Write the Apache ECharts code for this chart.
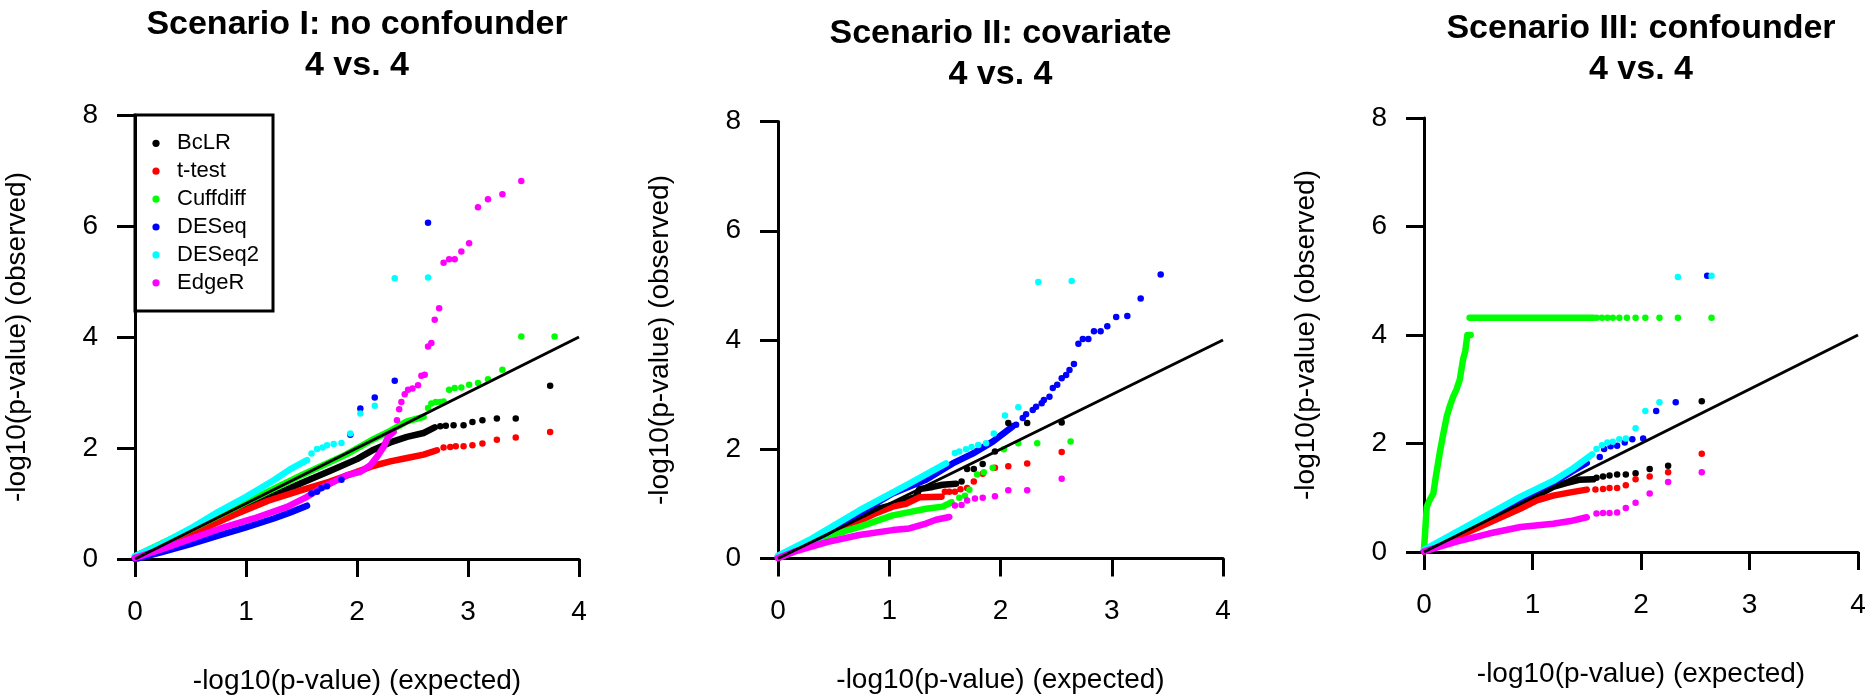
<!DOCTYPE html>
<html>
<head>
<meta charset="utf-8">
<script src="https://cdn.jsdelivr.net/npm/echarts@6/dist/echarts.min.js"></script>
<style>
html,body{margin:0;padding:0;background:#fff;}
#chart{width:1876px;height:700px;}
</style>
</head>
<body>
<div id="chart"></div>
<script>
// ---------- categories / labels ----------
const methods = ['BcLR', 't-test', 'Cuffdiff', 'DESeq', 'DESeq2', 'EdgeR'];
const panelTitles = ['Scenario I: no confounder\n4 vs. 4', 'Scenario II: covariate\n4 vs. 4', 'Scenario III: confounder\n4 vs. 4'];
const xTickLabels = [0, 1, 2, 3, 4];
const yTickLabels = [0, 2, 4, 6, 8];
const xAxisTitle = '-log10(p-value) (expected)';
const yAxisTitle = '-log10(p-value) (observed)';
const refLine = [[0, 0], [4, 4]];

// ---------- Panel I: no confounder ----------
const p1BcLRBand = [[0,0.02],[0.3,0.27],[0.6,0.55],[0.9,0.83],[1.2,1.10],[1.5,1.37],[1.75,1.58],[2.0,1.80],[2.15,1.97],[2.3,2.10],[2.45,2.20],[2.6,2.27],[2.7,2.37]];
const p1BcLRPts = [[2.75,2.39],[2.80,2.40],[2.87,2.41],[2.96,2.41],[3.04,2.47],[3.13,2.50],[3.26,2.53],[3.43,2.53],[3.74,3.12]];
const p1TtestBand = [[0,0.02],[0.3,0.26],[0.6,0.53],[0.9,0.80],[1.2,1.05],[1.5,1.24],[1.75,1.39],[2.0,1.57],[2.15,1.68],[2.3,1.76],[2.45,1.82],[2.6,1.88],[2.72,1.96]];
const p1TtestPts = [[2.78,2.01],[2.84,2.02],[2.89,2.03],[2.96,2.03],[3.04,2.05],[3.13,2.08],[3.26,2.15],[3.43,2.19],[3.74,2.29]];
const p1CuffBand = [[0,0.05],[0.5,0.53],[1.0,1.02],[1.5,1.51],[1.9,1.88],[2.13,2.14],[2.3,2.31],[2.45,2.48],[2.6,2.56]];
const p1CuffPts = [[2.64,2.72],[2.67,2.80],[2.71,2.83],[2.75,2.83],[2.78,2.84],[2.83,3.05],[2.88,3.08],[2.94,3.09],[3.01,3.14],[3.09,3.17],[3.18,3.24],[3.31,3.41],[3.48,4.01],[3.78,4.01]];
const p1DESeqBand = [[0,0.0],[0.25,0.13],[0.5,0.27],[0.75,0.42],[1.0,0.57],[1.25,0.73],[1.4,0.84],[1.55,0.96]];
const p1DESeqPts = [[1.59,1.18],[1.64,1.21],[1.68,1.28],[1.73,1.31],[1.86,1.43],[1.94,2.24],[2.03,2.71],[2.16,2.91],[2.34,3.21],[2.64,6.06]];
const p1DESeq2Band = [[0,0.05],[0.25,0.28],[0.5,0.55],[0.75,0.85],[1.0,1.12],[1.25,1.42],[1.4,1.62],[1.55,1.78]];
const p1DESeq2Pts = [[1.59,1.90],[1.64,1.98],[1.69,2.01],[1.73,2.05],[1.79,2.07],[1.86,2.09],[1.94,2.26],[2.03,2.62],[2.16,2.76],[2.34,5.06],[2.64,5.07]];
const p1EdgeRBand = [[0,0.02],[0.25,0.18],[0.47,0.34],[0.77,0.55],[1.07,0.73],[1.37,0.94],[1.55,1.12],[1.67,1.27],[1.79,1.39],[1.91,1.51],[2.03,1.57],[2.12,1.69],[2.18,1.84],[2.24,2.02],[2.28,2.20],[2.33,2.29]];
const p1EdgeRPts = [[2.36,2.50],[2.38,2.70],[2.40,2.83],[2.43,2.97],[2.46,3.05],[2.50,3.07],[2.55,3.13],[2.58,3.30],[2.61,3.32],[2.64,3.83],[2.67,3.89],[2.70,4.31],[2.74,4.52],[2.78,5.34],[2.83,5.40],[2.88,5.40],[2.94,5.54],[3.01,5.69],[3.09,6.34],[3.18,6.48],[3.31,6.57],[3.48,6.81]];

// ---------- Panel II: covariate ----------
const p2BcLRBand = [[0,0.01],[0.3,0.28],[0.6,0.57],[0.88,0.90],[1.03,0.98],[1.15,1.07],[1.24,1.13],[1.27,1.27],[1.39,1.31],[1.48,1.35],[1.6,1.37]];
const p2BcLRPts = [[1.65,1.41],[1.70,1.64],[1.76,1.64],[1.84,1.73],[1.95,1.96],[2.07,2.48],[2.24,2.48],[2.55,2.49]];
const p2TtestBand = [[0,0.01],[0.3,0.27],[0.6,0.55],[0.88,0.83],[1.03,0.95],[1.15,1.00],[1.27,1.12],[1.47,1.13]];
const p2TtestPts = [[1.50,1.22],[1.54,1.22],[1.59,1.22],[1.64,1.27],[1.70,1.29],[1.76,1.41],[1.84,1.55],[1.95,1.66],[2.07,1.69],[2.24,1.74],[2.55,1.95]];
const p2CuffBand = [[0,0.01],[0.2,0.17],[0.44,0.40],[0.73,0.58],[1.03,0.79],[1.18,0.85],[1.33,0.91],[1.48,0.95],[1.56,1.03]];
const p2CuffPts = [[1.63,1.11],[1.68,1.15],[1.72,1.26],[1.79,1.54],[1.85,1.58],[1.93,1.66],[2.03,2.00],[2.16,2.11],[2.33,2.11],[2.63,2.14]];
const p2DESeqBand = [[0,0.03],[0.43,0.46],[0.73,0.83],[1.03,1.19],[1.33,1.44],[1.57,1.74],[1.75,1.92],[1.93,2.14],[2.11,2.42]];
const p2DESeqPts = [[2.14,2.45],[2.20,2.57],[2.23,2.64],[2.29,2.72],[2.32,2.78],[2.37,2.84],[2.39,2.90],[2.44,2.96],[2.47,3.12],[2.51,3.18],[2.55,3.30],[2.59,3.36],[2.62,3.45],[2.66,3.56],[2.70,3.93],[2.74,4.02],[2.79,4.02],[2.84,4.16],[2.90,4.16],[2.96,4.25],[3.04,4.42],[3.14,4.44],[3.26,4.76],[3.44,5.20]];
const p2DESeq2Band = [[0,0.05],[0.3,0.36],[0.73,0.88],[1.18,1.37],[1.51,1.74]];
const p2DESeq2Pts = [[1.59,1.93],[1.63,1.96],[1.69,2.00],[1.74,2.04],[1.80,2.08],[1.87,2.11],[1.94,2.29],[2.04,2.62],[2.16,2.77],[2.34,5.06],[2.64,5.08]];
const p2EdgeRBand = [[0,0.01],[0.14,0.12],[0.44,0.30],[0.73,0.43],[1.03,0.52],[1.18,0.55],[1.33,0.64],[1.42,0.71],[1.54,0.76]];
const p2EdgeRPts = [[1.59,0.97],[1.65,0.98],[1.70,1.06],[1.77,1.10],[1.84,1.11],[1.95,1.14],[2.07,1.25],[2.24,1.25],[2.55,1.46]];

// ---------- Panel III: confounder ----------
const p3BcLRBand = [[0,0.01],[0.5,0.48],[0.9,0.88],[1.19,1.20],[1.31,1.27],[1.43,1.33],[1.56,1.34]];
const p3BcLRPts = [[1.59,1.37],[1.65,1.39],[1.71,1.41],[1.78,1.43],[1.86,1.43],[1.95,1.45],[2.08,1.53],[2.25,1.59],[2.56,2.78]];
const p3TtestBand = [[0,0.01],[0.5,0.45],[0.89,0.80],[1.04,0.95],[1.19,1.04],[1.35,1.10],[1.5,1.15]];
const p3TtestPts = [[1.58,1.15],[1.65,1.16],[1.71,1.18],[1.78,1.18],[1.86,1.23],[1.95,1.34],[2.08,1.39],[2.25,1.47],[2.56,1.81]];
const p3CuffRise = [[0,0.05],[0.01,0.35],[0.025,0.83],[0.05,0.95],[0.086,1.08],[0.11,1.40],[0.147,1.85],[0.18,2.20],[0.21,2.50],[0.24,2.70],[0.27,2.87],[0.30,3.00],[0.33,3.18],[0.36,3.55],[0.38,3.70],[0.39,3.85],[0.40,4.00],[0.43,4.00]];
const p3CuffBand = [[0.42,4.32],[1.56,4.32]];
const p3CuffPts = [[1.59,4.32],[1.64,4.32],[1.69,4.32],[1.74,4.32],[1.80,4.32],[1.87,4.32],[1.95,4.32],[2.04,4.32],[2.17,4.32],[2.34,4.32],[2.65,4.32]];
const p3DESeqBand = [[0,0.02],[0.5,0.56],[0.9,0.99],[1.24,1.33],[1.36,1.48],[1.5,1.64]];
const p3DESeqPts = [[1.62,1.75],[1.66,1.90],[1.72,1.95],[1.78,1.96],[1.85,2.02],[1.92,2.08],[2.02,2.09],[2.14,2.60],[2.32,2.76],[2.61,5.09]];
const p3DESeq2Band = [[0,0.04],[0.42,0.50],[0.89,1.02],[1.19,1.31],[1.38,1.55],[1.55,1.80]];
const p3DESeq2Pts = [[1.59,1.90],[1.64,1.97],[1.69,2.02],[1.74,2.03],[1.80,2.08],[1.86,2.09],[1.95,2.28],[2.04,2.60],[2.17,2.76],[2.34,5.07],[2.65,5.09]];
const p3EdgeRBand = [[0,0.01],[0.3,0.19],[0.6,0.34],[0.89,0.46],[1.19,0.52],[1.35,0.57],[1.5,0.64]];
const p3EdgeRPts = [[1.59,0.71],[1.65,0.72],[1.71,0.72],[1.78,0.73],[1.86,0.81],[1.95,0.91],[2.08,1.08],[2.25,1.29],[2.56,1.47]];

// ---------- tables built from the arrays above ----------
const panelBands = [
  { 'BcLR': [p1BcLRBand], 't-test': [p1TtestBand], 'Cuffdiff': [p1CuffBand], 'DESeq': [p1DESeqBand], 'DESeq2': [p1DESeq2Band], 'EdgeR': [p1EdgeRBand] },
  { 'BcLR': [p2BcLRBand], 't-test': [p2TtestBand], 'Cuffdiff': [p2CuffBand], 'DESeq': [p2DESeqBand], 'DESeq2': [p2DESeq2Band], 'EdgeR': [p2EdgeRBand] },
  { 'BcLR': [p3BcLRBand], 't-test': [p3TtestBand], 'Cuffdiff': [p3CuffRise, p3CuffBand], 'DESeq': [p3DESeqBand], 'DESeq2': [p3DESeq2Band], 'EdgeR': [p3EdgeRBand] }
];
const panelPoints = [
  { 'BcLR': p1BcLRPts, 't-test': p1TtestPts, 'Cuffdiff': p1CuffPts, 'DESeq': p1DESeqPts, 'DESeq2': p1DESeq2Pts, 'EdgeR': p1EdgeRPts },
  { 'BcLR': p2BcLRPts, 't-test': p2TtestPts, 'Cuffdiff': p2CuffPts, 'DESeq': p2DESeqPts, 'DESeq2': p2DESeq2Pts, 'EdgeR': p2EdgeRPts },
  { 'BcLR': p3BcLRPts, 't-test': p3TtestPts, 'Cuffdiff': p3CuffPts, 'DESeq': p3DESeqPts, 'DESeq2': p3DESeq2Pts, 'EdgeR': p3EdgeRPts }
];

// ---------- styles / layout ----------
const methodColors = { 'BcLR': '#000000', 't-test': '#FF0000', 'Cuffdiff': '#00FF00', 'DESeq': '#0000FF', 'DESeq2': '#00FFFF', 'EdgeR': '#FF00FF' };
const FONT = 'Liberation Sans, Arial, Helvetica, sans-serif';
const grids = [
  { left: 135, top: 115, width: 444, height: 444 },
  { left: 778, top: 121.5, width: 445, height: 437 },
  { left: 1424, top: 118, width: 434, height: 434 }
];
const titleTops = [4, 13, 8.5];
// legend box layout (pixels, panel I, top-left corner of the plot)
const legendBox = { x: 135, y: 115, width: 138, height: 196, firstRow: 28.3, rowStep: 27.9, dotX: 21, textX: 42 };

const chart = echarts.init(document.getElementById('chart'), null, { renderer: 'canvas' });

const xAxes = [], yAxes = [], series = [], titles = [];
grids.forEach((g, i) => {
  titles.push({
    text: panelTitles[i], left: g.left + g.width / 2, top: titleTops[i], textAlign: 'center', padding: 0,
    textStyle: { fontFamily: FONT, fontSize: 34, fontWeight: 'bold', color: '#000', lineHeight: 41 }
  });
  xAxes.push({
    gridIndex: i, type: 'value',
    min: xTickLabels[0], max: xTickLabels[xTickLabels.length - 1], interval: xTickLabels[1] - xTickLabels[0],
    axisLine: { show: true, onZero: false, lineStyle: { color: '#000', width: 3 } },
    axisTick: { show: true, inside: false, length: 18, lineStyle: { color: '#000', width: 3 } },
    axisLabel: { margin: 39, fontSize: 28, fontFamily: FONT, color: '#000' },
    splitLine: { show: false },
    name: xAxisTitle, nameLocation: 'middle', nameGap: 108,
    nameTextStyle: { fontSize: 28, fontFamily: FONT, color: '#000' }
  });
  yAxes.push({
    gridIndex: i, type: 'value',
    min: yTickLabels[0], max: yTickLabels[yTickLabels.length - 1], interval: yTickLabels[1] - yTickLabels[0],
    axisLine: { show: true, onZero: false, lineStyle: { color: '#000', width: 3 } },
    axisTick: { show: true, inside: false, length: 18, lineStyle: { color: '#000', width: 3 } },
    axisLabel: { margin: 37, fontSize: 28, fontFamily: FONT, color: '#000' },
    splitLine: { show: false },
    name: yAxisTitle, nameLocation: 'middle', nameGap: 104,
    nameTextStyle: { fontSize: 28, fontFamily: FONT, color: '#000' }
  });
  methods.forEach(m => {
    const col = methodColors[m];
    panelBands[i][m].forEach(band => {
      series.push({
        type: 'line', name: m, xAxisIndex: i, yAxisIndex: i, data: band,
        symbol: 'none', showSymbol: false, silent: true, animation: false, z: 2,
        lineStyle: { color: col, width: 6.5, cap: 'round', join: 'round' },
        itemStyle: { color: col }
      });
    });
    series.push({
      type: 'scatter', name: m, xAxisIndex: i, yAxisIndex: i, data: panelPoints[i][m],
      symbol: 'circle', symbolSize: 6.5, silent: true, animation: false, z: 2,
      itemStyle: { color: col, opacity: 1 }
    });
  });
  series.push({
    type: 'line', xAxisIndex: i, yAxisIndex: i, data: refLine,
    symbol: 'none', silent: true, animation: false, z: 5,
    lineStyle: { color: '#000', width: 3 }
  });
});

// legend box (R-style) built from the methods list
const legendChildren = [{
  type: 'rect', shape: { x: 0, y: 0, width: legendBox.width, height: legendBox.height },
  style: { fill: '#fff', stroke: '#000', lineWidth: 3 }
}];
methods.forEach((m, k) => {
  const cy = legendBox.firstRow + legendBox.rowStep * k;
  legendChildren.push({ type: 'circle', shape: { cx: legendBox.dotX, cy: cy, r: 3.6 }, style: { fill: methodColors[m] } });
  legendChildren.push({
    type: 'text', x: legendBox.textX, y: cy,
    style: { text: m, fontSize: 22, fontFamily: FONT, fill: '#000', align: 'left', verticalAlign: 'middle' }
  });
});

chart.setOption({
  backgroundColor: '#ffffff',
  animation: false,
  title: titles,
  grid: grids.map(g => Object.assign({ containLabel: false, outerBoundsMode: 'none' }, g)),
  xAxis: xAxes,
  yAxis: yAxes,
  graphic: [{ type: 'group', x: legendBox.x, y: legendBox.y, z: 10, silent: true, children: legendChildren }],
  series: series
});
</script>
</body>
</html>
